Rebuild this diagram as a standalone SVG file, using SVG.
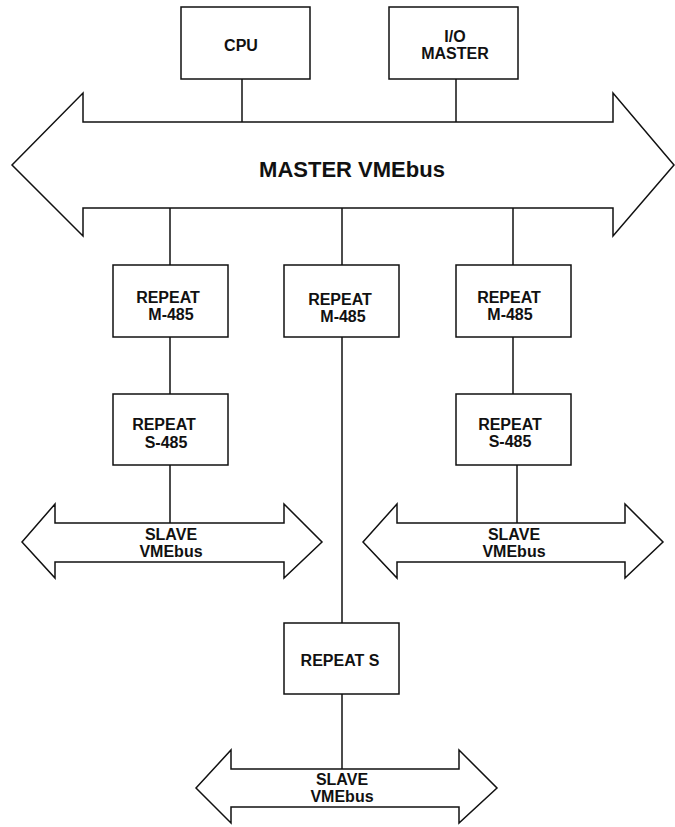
<svg xmlns="http://www.w3.org/2000/svg" width="675" height="827" viewBox="0 0 675 827">
<style>
.box{fill:#fff;stroke:#111;stroke-width:1.5}
.bus{fill:#fff;stroke:#111;stroke-width:1.5;stroke-linejoin:miter}
.ln{stroke:#111;stroke-width:1.5;fill:none}
text{font-family:"Liberation Sans",Arial,sans-serif;font-weight:bold;fill:#111;text-anchor:middle}
.t{font-size:16px}
.big{font-size:22px}
</style>
<rect width="675" height="827" fill="#fff"/>
<g id="connectors">
<line class="ln" x1="242" y1="79" x2="242" y2="122"/>
<line class="ln" x1="456" y1="79" x2="456" y2="122"/>
<line class="ln" x1="170" y1="208" x2="170" y2="265"/>
<line class="ln" x1="342" y1="208" x2="342" y2="265"/>
<line class="ln" x1="513" y1="208" x2="513" y2="265"/>
<line class="ln" x1="170" y1="337" x2="170" y2="394"/>
<line class="ln" x1="513" y1="337" x2="513" y2="394"/>
<line class="ln" x1="170" y1="465" x2="170" y2="523"/>
<line class="ln" x1="517" y1="465" x2="517" y2="523"/>
<line class="ln" x1="342" y1="337" x2="342" y2="623"/>
<line class="ln" x1="342" y1="694" x2="342" y2="769"/>
</g>
<g id="master-bus">
<polygon class="bus" points="12,165 83,93 83,122 613,122 613,93 674,165 613,236 613,208 83,208 83,236"/>
<text class="big" x="352" y="177">MASTER VMEbus</text>
</g>
<g id="cpu">
<rect class="box" x="181" y="7" width="129" height="72"/>
<text class="t" x="241" y="51">CPU</text>
</g>
<g id="io-master">
<rect class="box" x="389" y="7" width="129" height="72"/>
<text class="t" x="455" y="42">I/O</text>
<text class="t" x="455" y="59">MASTER</text>
</g>
<g id="repeat-m-left">
<rect class="box" x="113" y="265" width="115" height="72"/>
<text class="t" x="168" y="303">REPEAT</text>
<text class="t" x="171" y="320">M-485</text>
</g>
<g id="repeat-m-mid">
<rect class="box" x="284" y="265" width="115" height="72"/>
<text class="t" x="340" y="305">REPEAT</text>
<text class="t" x="343" y="322">M-485</text>
</g>
<g id="repeat-m-right">
<rect class="box" x="456" y="265" width="115" height="72"/>
<text class="t" x="509" y="303">REPEAT</text>
<text class="t" x="510" y="320">M-485</text>
</g>
<g id="repeat-s-left">
<rect class="box" x="113" y="394" width="115" height="71"/>
<text class="t" x="164" y="430">REPEAT</text>
<text class="t" x="166" y="448">S-485</text>
</g>
<g id="repeat-s-right">
<rect class="box" x="456" y="394" width="115" height="71"/>
<text class="t" x="510" y="430">REPEAT</text>
<text class="t" x="510" y="447">S-485</text>
</g>
<g id="repeat-s">
<rect class="box" x="284" y="623" width="115" height="71"/>
<text class="t" x="340" y="666">REPEAT S</text>
</g>
<g id="slave-bus-left">
<polygon class="bus" points="22,542 55,504 55,523 284,523 284,504 322,542 284,578 284,562 55,562 55,578"/>
<text class="t" x="171" y="540">SLAVE</text>
<text class="t" x="171" y="557">VMEbus</text>
</g>
<g id="slave-bus-right">
<polygon class="bus" points="363,542 397,504 397,523 625,523 625,504 663,542 625,578 625,562 397,562 397,578"/>
<text class="t" x="514" y="540">SLAVE</text>
<text class="t" x="514" y="557">VMEbus</text>
</g>
<g id="slave-bus-bottom">
<polygon class="bus" points="196,788 231,750 231,769 459,769 459,750 497,788 459,823 459,807 231,807 231,823"/>
<text class="t" x="342" y="785">SLAVE</text>
<text class="t" x="342" y="802">VMEbus</text>
</g>
</svg>
